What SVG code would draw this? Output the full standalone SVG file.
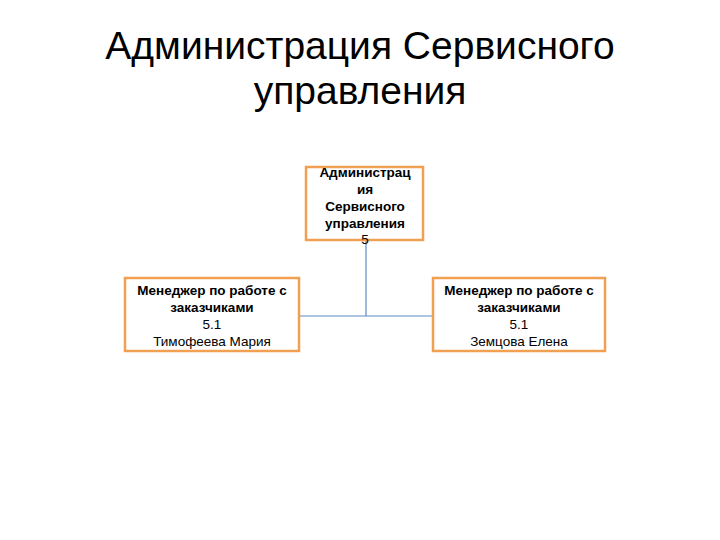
<svg xmlns="http://www.w3.org/2000/svg" width="720" height="540" viewBox="0 0 720 540">
<style>
.box{fill:#fff;stroke:#f0a050;stroke-width:2.5}
.t{font-family:"Liberation Sans",Arial,sans-serif;font-size:13.5px;fill:#000;text-anchor:middle}
.b{font-weight:bold}
.title{font-family:"Liberation Sans",Arial,sans-serif;font-size:39px;fill:#000;text-anchor:middle}
.c{fill:none;stroke:#5b8cc8;stroke-width:1.2}
</style>
<rect width="720" height="540" fill="#fff"/>
<text class="title" x="360" y="59">Администрация Сервисного</text>
<text class="title" x="360" y="104">управления</text>
<g id="connectors">
<path class="c" d="M366 240 V316 M299 316 H433"/>
</g>
<g id="n5">
<rect class="box" x="306" y="167" width="117" height="73"/>
<text class="t b" x="365" y="177">Администрац</text>
<text class="t b" x="365" y="194">ия</text>
<text class="t b" x="365" y="211">Сервисного</text>
<text class="t b" x="365" y="228">управления</text>
<text class="t" x="365" y="244">5</text>
</g>
<g id="n51a">
<rect class="box" x="125" y="278" width="174" height="73"/>
<text class="t b" x="212" y="295">Менеджер по работе с</text>
<text class="t b" x="212" y="312">заказчиками</text>
<text class="t" x="212" y="329">5.1</text>
<text class="t" x="212" y="346">Тимофеева Мария</text>
</g>
<g id="n51b">
<rect class="box" x="433" y="278" width="172" height="73"/>
<text class="t b" x="519" y="295">Менеджер по работе с</text>
<text class="t b" x="519" y="312">заказчиками</text>
<text class="t" x="519" y="329">5.1</text>
<text class="t" x="519" y="346">Земцова  Елена</text>
</g>
</svg>
